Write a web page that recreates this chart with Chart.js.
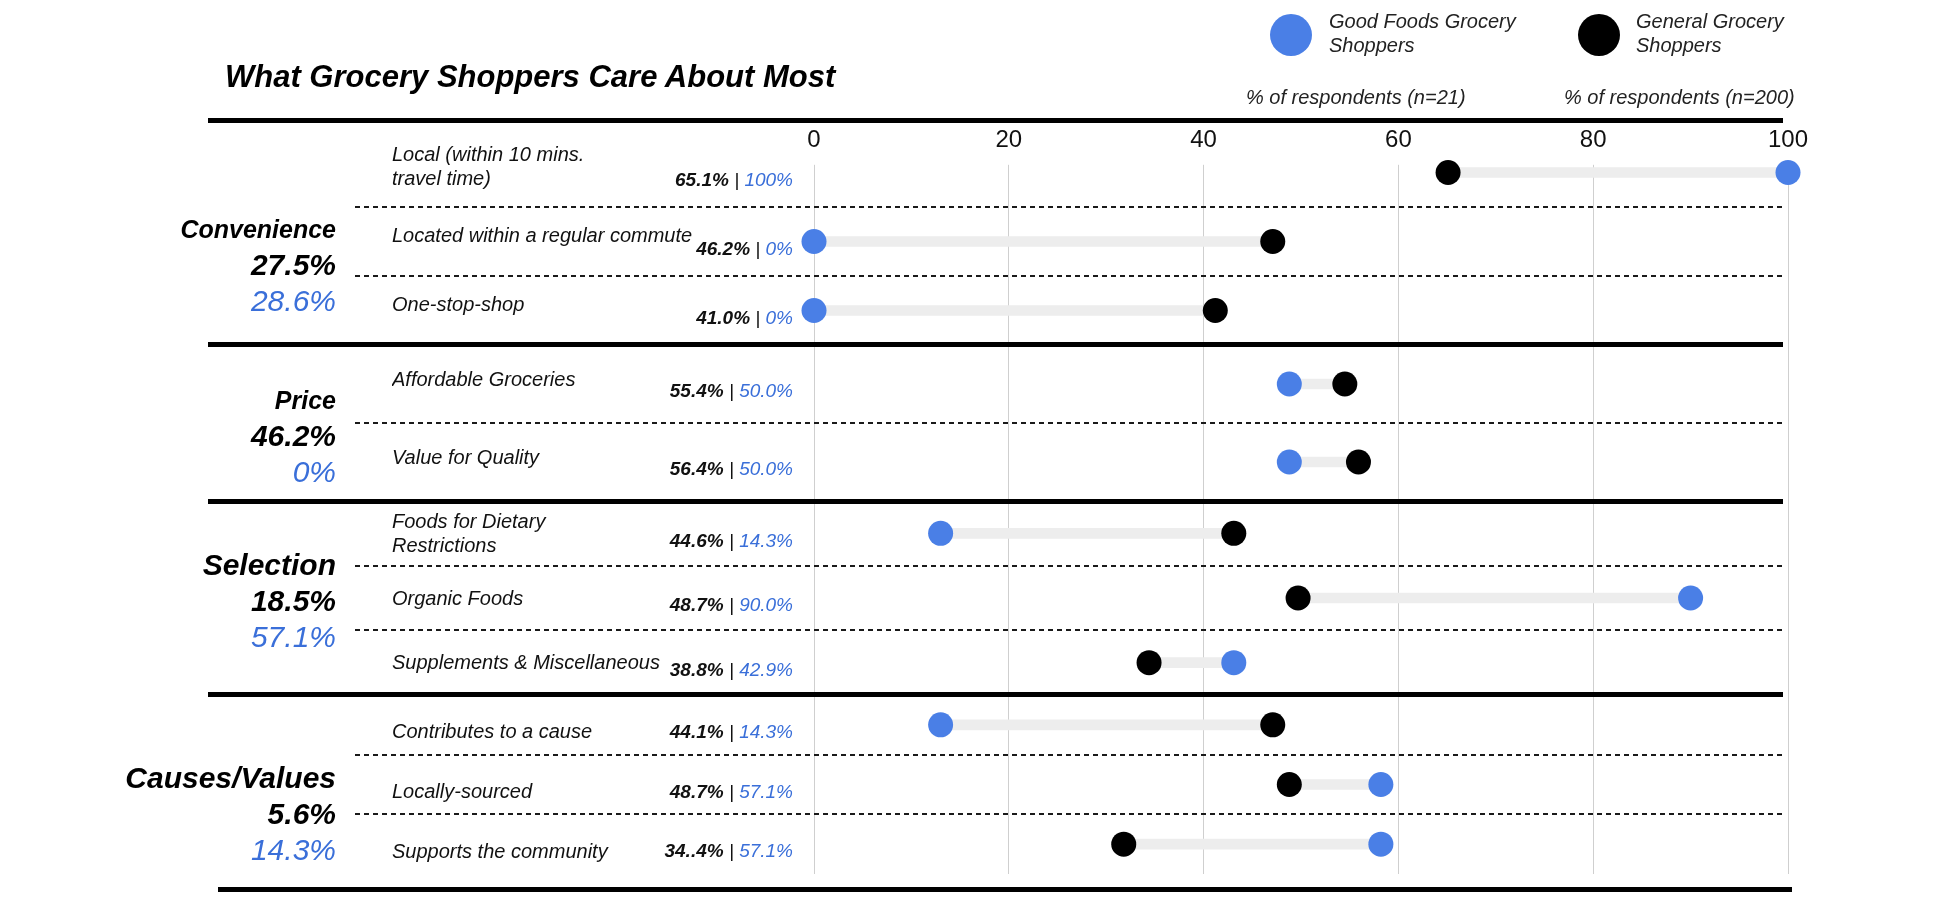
<!DOCTYPE html>
<html>
<head>
<meta charset="utf-8">
<script src="https://cdn.jsdelivr.net/npm/chart.js@4.4.0/dist/chart.umd.min.js"></script>
<style>
html,body{margin:0;padding:0;background:#fff;}
#wrap{position:relative;width:1936px;height:924px;overflow:hidden;background:#fff;font-family:"Liberation Sans",Arial,Helvetica,sans-serif;}
.cv{position:absolute;left:0;}
.rule{position:absolute;height:5px;background:#000;z-index:5;}
.txt{position:absolute;font-style:italic;color:#111;z-index:5;}
.dot{position:absolute;border-radius:50%;z-index:5;}
</style>
</head>
<body>
<div id="wrap"></div>
<script>
// ---------- data ----------
const chartTitle = 'What Grocery Shoppers Care About Most';
const seriesNames = ['Good Foods Grocery Shoppers', 'General Grocery Shoppers'];
const sampleNotes = ['% of respondents (n=21)', '% of respondents (n=200)'];
const groupNames = ['Convenience', 'Price', 'Selection', 'Causes/Values'];
const groupGeneral = ['27.5%', '46.2%', '18.5%', '5.6%'];
const groupGood = ['28.6%', '0%', '57.1%', '14.3%'];
const rowLabels = [
  ['Local (within 10 mins.', 'travel time)'],
  'Located within a regular commute',
  'One-stop-shop',
  'Affordable Groceries',
  'Value for Quality',
  ['Foods for Dietary', 'Restrictions'],
  'Organic Foods',
  'Supplements & Miscellaneous',
  'Contributes to a cause',
  'Locally-sourced',
  'Supports the community'
];
const rowGroup = [0, 0, 0, 1, 1, 2, 2, 2, 3, 3, 3];
const generalValues = [65.1, 47.1, 41.2, 54.5, 55.9, 43.1, 49.7, 34.4, 47.1, 48.8, 31.8];
const goodValues = [100, 0, 0, 48.8, 48.8, 13.0, 90.0, 43.1, 13.0, 58.2, 58.2];
const generalText = ['65.1%', '46.2%', '41.0%', '55.4%', '56.4%', '44.6%', '48.7%', '38.8%', '44.1%', '48.7%', '34..4%'];
const goodText = ['100%', '0%', '0%', '50.0%', '50.0%', '14.3%', '90.0%', '42.9%', '14.3%', '57.1%', '57.1%'];
const xTicks = [0, 20, 40, 60, 80, 100];

// ---------- style / layout ----------
const BLUE = '#4a7fe6';
const BLUE_TXT = '#3a6fd9';
const INK = '#111111';
const FONT = '"Liberation Sans", Arial, Helvetica, sans-serif';
const frames = [
  {top: 138, bottom: 345, nameOff: -10.5, nameSize: 25, labelShift: -5},
  {top: 345, bottom: 501, nameOff: -21, nameSize: 25, labelShift: -4},
  {top: 501, bottom: 695, nameOff: -31, nameSize: 30, labelShift: 1},
  {top: 695, bottom: 874, nameOff: -5, nameSize: 30, labelShift: 8}
];
const PAD = 30;
const AXIS_H = 12;

const wrap = document.getElementById('wrap');
function add(html) { wrap.insertAdjacentHTML('beforeend', html); }

// title
add(`<div class="txt" style="left:225px;top:59px;font-size:31px;line-height:36px;font-weight:bold;color:#000;white-space:nowrap;">${chartTitle}</div>`);
// legend
const legendPos = [{cx: 1291, tx: 1329, color: BLUE}, {cx: 1599, tx: 1636, color: '#000'}];
seriesNames.forEach((n, i) => {
  const p = legendPos[i];
  add(`<div class="dot" style="left:${p.cx - 21}px;top:14px;width:42px;height:42px;background:${p.color};"></div>`);
  add(`<div class="txt" style="left:${p.tx}px;top:9px;width:200px;font-size:20px;line-height:24px;color:#222;">${n}</div>`);
});
const notePos = [1246, 1564];
sampleNotes.forEach((n, i) => {
  add(`<div class="txt" style="left:${notePos[i]}px;top:85px;font-size:20px;line-height:24px;color:#222;white-space:nowrap;">${n}</div>`);
});
// thick rules
[[118, 208, 1575], [342, 208, 1575], [499, 208, 1575], [692, 208, 1575], [887, 218, 1574]].forEach(r => {
  add(`<div class="rule" style="top:${r[0]}px;left:${r[1]}px;width:${r[2]}px;"></div>`);
});

function decor(g, rows) {
  return {
    id: 'decor' + g,
    afterDraw(chart) {
      const ctx = chart.ctx;
      const ys = chart.scales.y;
      const py = k => ys.getPixelForValue(k);
      ctx.save();
      // dashed row separators
      ctx.setLineDash([5, 4]);
      ctx.lineWidth = 2;
      ctx.strokeStyle = '#1a1a1a';
      for (let k = 0; k < rows.length - 1; k++) {
        const yy = Math.round((py(k) + py(k + 1)) / 2);
        ctx.beginPath();
        ctx.moveTo(355, yy);
        ctx.lineTo(1783, yy);
        ctx.stroke();
      }
      ctx.setLineDash([]);
      // value labels
      ctx.textBaseline = 'middle';
      ctx.textAlign = 'right';
      rows.forEach((r, k) => {
        let x = 793;
        const yy = py(k) + 8;
        ctx.font = `italic 19px ${FONT}`;
        ctx.fillStyle = BLUE_TXT;
        ctx.fillText(goodText[r], x, yy);
        x -= ctx.measureText(goodText[r]).width;
        ctx.fillStyle = INK;
        ctx.fillText(' | ', x, yy);
        x -= ctx.measureText(' | ').width;
        ctx.font = `bold italic 19px ${FONT}`;
        ctx.fillText(generalText[r], x, yy);
      });
      // group labels
      const mid = (py(0) + py(rows.length - 1)) / 2 + frames[g].nameOff;
      ctx.fillStyle = '#000';
      ctx.font = `bold italic ${frames[g].nameSize}px ${FONT}`;
      ctx.fillText(groupNames[g], 336, mid);
      ctx.font = `bold italic 30px ${FONT}`;
      ctx.fillText(groupGeneral[g], 336, mid + 36);
      ctx.font = `italic 30px ${FONT}`;
      ctx.fillStyle = BLUE_TXT;
      ctx.fillText(groupGood[g], 336, mid + 72);
      ctx.restore();
    }
  };
}

groupNames.forEach((gname, g) => {
  const rows = rowGroup.map((v, i) => (v === g ? i : -1)).filter(i => i >= 0);
  const f = frames[g];
  const first = g === 0;
  const cTop = first ? 0 : f.top - PAD;
  const padTop = first ? f.top - AXIS_H : PAD;
  const h = f.bottom + PAD - cTop;
  const cv = document.createElement('canvas');
  cv.className = 'cv';
  cv.width = 1936;
  cv.height = h;
  cv.style.top = cTop + 'px';
  cv.style.width = '1936px';
  cv.style.height = h + 'px';
  wrap.appendChild(cv);

  const xScale = {
    type: 'linear',
    position: 'top',
    min: 0,
    max: 100,
    afterBuildTicks: s => { s.ticks = xTicks.map(v => ({value: v})); },
    grid: {color: '#cfcfcf', lineWidth: 1, drawTicks: false},
    border: {display: false},
    ticks: first ? {
      display: true, mirror: true, padding: -12, color: INK, maxRotation: 0, autoSkip: false,
      font: {family: FONT, size: 24},
      showLabelBackdrop: true, backdropColor: '#ffffff',
      backdropPadding: {top: 0, bottom: 10, left: 3, right: 3}
    } : {display: false}
  };
  if (first) xScale.afterFit = s => { s.height = AXIS_H; };

  new Chart(cv, {
    type: 'bar',
    data: {
      labels: rows.map(i => rowLabels[i]),
      datasets: [
        {
          type: 'line', indexAxis: 'y', label: seriesNames[0],
          data: rows.map(i => goodValues[i]),
          showLine: false, pointRadius: 12.5, pointHoverRadius: 12.5,
          pointBackgroundColor: BLUE, pointBorderWidth: 0, borderWidth: 0,
          clip: false, order: 1
        },
        {
          type: 'line', indexAxis: 'y', label: seriesNames[1],
          data: rows.map(i => generalValues[i]),
          showLine: false, pointRadius: 12.5, pointHoverRadius: 12.5,
          pointBackgroundColor: '#000000', pointBorderWidth: 0, borderWidth: 0,
          clip: false, order: 2
        },
        {
          type: 'bar', indexAxis: 'y', label: 'gap',
          data: rows.map(i => [generalValues[i], goodValues[i]]),
          backgroundColor: '#ededed', barThickness: 10, borderWidth: 0,
          borderSkipped: false, order: 3
        }
      ]
    },
    options: {
      indexAxis: 'y',
      responsive: false,
      animation: false,
      events: [],
      layout: {padding: {top: padTop, bottom: PAD, left: 392, right: 148}},
      plugins: {legend: {display: false}, tooltip: {enabled: false}},
      scales: {
        x: xScale,
        y: {
          type: 'category',
          offset: true,
          grid: {display: false},
          border: {display: false},
          ticks: {crossAlign: 'far', padding: 0, color: INK, autoSkip: false,
                  labelOffset: f.labelShift,
                  font: {family: FONT, size: 20, style: 'italic'}},
          afterFit: s => { s.width = 422; }
        }
      }
    },
    plugins: [decor(g, rows)]
  });
});
</script>
</body>
</html>
